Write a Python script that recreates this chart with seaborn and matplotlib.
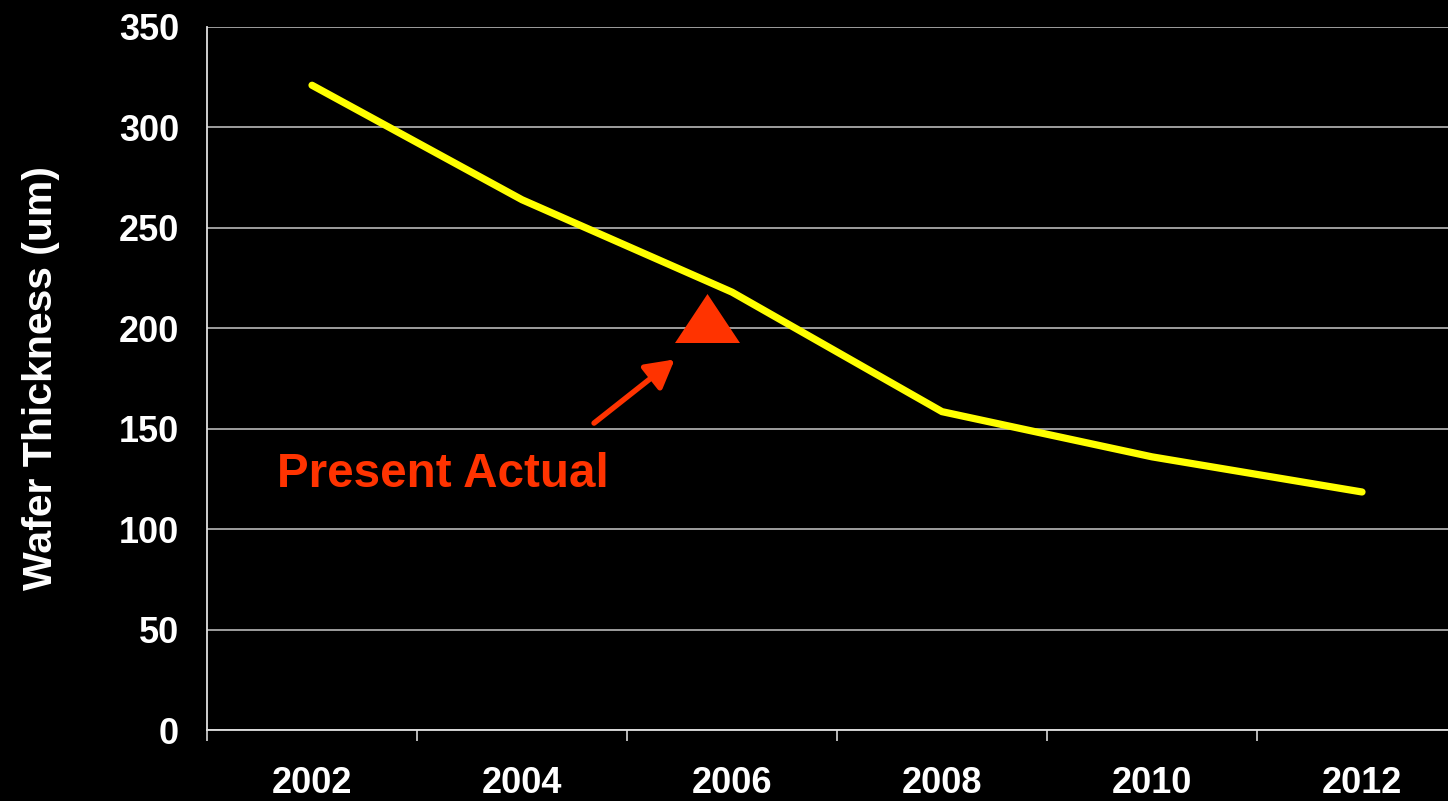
import numpy as np
import pandas as pd
import matplotlib
matplotlib.use("Agg")
import matplotlib.pyplot as plt
import seaborn as sns

# Wafer thickness roadmap
years = ["2002", "2004", "2006", "2008", "2010", "2012"]
thickness_um = [321, 264, 218, 158.5, 136, 118.5]

# Present actual thickness, marked between roadmap years
present_year = 2005.76
present_um = 205
present_label = "Present Actual"

y_ticks = [0, 50, 100, 150, 200, 250, 300, 350]
y_label = "Wafer Thickness (um)"

sns.set_theme(style="dark")
plt.rcParams["font.family"] = ["Liberation Sans", "DejaVu Sans"]
plt.rcParams["font.weight"] = "bold"

W, H = 1448, 801
fig = plt.figure(figsize=(W / 100, H / 100), dpi=100, facecolor="black")
# plot area: left edge at 207px, bottom at 730px, top at 27px; right edge runs off the canvas
ax = fig.add_axes([207 / W, (H - 730) / H, 1260 / W, 703 / H])
ax.set_facecolor("black")

df = pd.DataFrame({"pos": np.arange(len(years)), "thickness": thickness_um})
sns.lineplot(data=df, x="pos", y="thickness", ax=ax, color="#FFFF00",
             linewidth=5.2, solid_capstyle="round", solid_joinstyle="miter",
             zorder=3)

# triangle marker for the present actual value
pos_present = (present_year - int(years[0])) / 2
tri = [(0, 0.754), (-1, -0.754), (1, -0.754)]
ax.scatter([pos_present], [present_um], marker=tri, s=46.8 ** 2,
           color="#FF3300", linewidths=0, zorder=4)

ax.annotate("", xy=(1.727, 184.5), xytext=(1.343, 152.8),
            arrowprops=dict(arrowstyle="-|>,head_length=17,head_width=9.5",
                            mutation_scale=1, lw=3.9, color="#FF3300",
                            shrinkA=0, shrinkB=0), zorder=4)
ax.text(-0.167, 121, present_label, color="#FF3300", fontsize=34.3,
        fontweight="bold", ha="left", va="baseline", zorder=4)

ax.set_xlim(-0.5, len(years) - 0.5)
ax.set_ylim(0, 350)

ax.set_yticks(y_ticks)
ax.set_yticklabels([str(v) for v in y_ticks])
ax.tick_params(axis="y", length=0, pad=20, labelsize=26, labelcolor="white")

# category boundaries carry the tick marks, centres carry the labels
ax.set_xticks(np.arange(len(years) + 1) - 0.5)
ax.set_xticklabels([])
ax.set_xticks(np.arange(len(years)), minor=True)
ax.set_xticklabels(years, minor=True)
ax.tick_params(axis="x", which="major", length=8, width=1.2, color="#D9D9D9",
               direction="out", bottom=True)
ax.tick_params(axis="x", which="minor", length=0, pad=26, labelsize=26,
               labelcolor="white")
for lbl in ax.get_xticklabels(minor=True) + ax.get_yticklabels():
    lbl.set_fontweight("bold")

ax.grid(False)
ax.yaxis.grid(True, color="#C8C8C8", linewidth=1.1)
ax.xaxis.grid(False, which="both")

for side in ["top", "right"]:
    ax.spines[side].set_visible(False)
for side in ["left", "bottom"]:
    ax.spines[side].set_visible(True)
    ax.spines[side].set_color("#E0E0E0")
    ax.spines[side].set_linewidth(1.3)
ax.spines["left"].set_bounds(0, 350)

ax.set_xlabel("")
ax.set_ylabel(y_label, fontsize=29.5, fontweight="bold", color="white")
ax.yaxis.set_label_coords(-0.1167, 0.5)

fig.savefig("out.png", dpi=100, facecolor="black")
